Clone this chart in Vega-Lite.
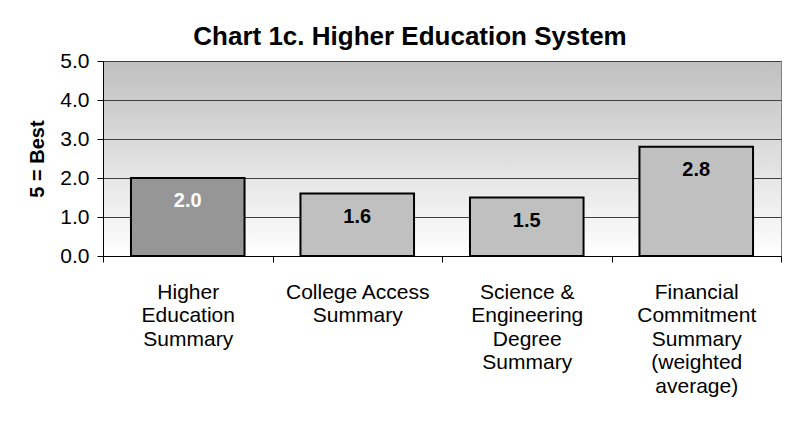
{
  "$schema": "https://vega.github.io/schema/vega-lite/v6.json",
  "autosize": {"type": "none"},
  "width": 678,
  "height": 195,
  "padding": {"left": 103, "top": 61, "right": 7, "bottom": 167},
  "background": "#ffffff",
  "title": {
    "text": "Chart 1c. Higher Education System",
    "font": "Liberation Sans",
    "fontSize": 26,
    "fontWeight": "bold",
    "color": "#000000",
    "anchor": "middle",
    "dx": -32,
    "dy": 10,
    "offset": 10
  },
  "data": {
    "values": [
      {"measure": "Higher|Education|Summary", "score": 2.0, "kind": "Summary"},
      {"measure": "College Access|Summary", "score": 1.6, "kind": "Component"},
      {"measure": "Science &|Engineering|Degree|Summary", "score": 1.5, "kind": "Component"},
      {"measure": "Financial|Commitment|Summary|(weighted|average)", "score": 2.8, "kind": "Component"}
    ]
  },
  "encoding": {
    "x": {
      "field": "measure",
      "type": "nominal",
      "sort": null,
      "scale": {"paddingInner": 0, "paddingOuter": 0},
      "axis": {
        "title": null,
        "labelAngle": 0,
        "labelExpr": "split(datum.label, '|')",
        "labelFont": "Liberation Sans",
        "labelFontSize": 21,
        "labelColor": "#000000",
        "labelLineHeight": 23.5,
        "labelPadding": 19,
        "labelBaseline": "top",
        "tickBand": "extent",
        "tickSize": 6,
        "tickColor": "#000000",
        "domainColor": "#000000",
        "grid": false
      }
    },
    "y": {
      "field": "score",
      "type": "quantitative",
      "scale": {"domain": [0, 5], "nice": false},
      "axis": {
        "title": "5 = Best",
        "titleFont": "Liberation Sans",
        "titleFontSize": 20,
        "titleFontWeight": "bold",
        "titleColor": "#000000",
        "titlePadding": 12,
        "values": [0, 1, 2, 3, 4, 5],
        "format": ".1f",
        "labelFont": "Liberation Sans",
        "labelFontSize": 21,
        "labelColor": "#000000",
        "labelPadding": 8,
        "tickSize": 6,
        "tickColor": "#000000",
        "domainColor": "#000000",
        "grid": true,
        "gridColor": "#404040",
        "gridWidth": 1
      }
    }
  },
  "layer": [
    {
      "mark": {"type": "bar", "stroke": "#000000", "strokeWidth": 2, "width": {"band": 0.67}},
      "encoding": {
        "color": {
          "field": "kind",
          "type": "nominal",
          "scale": {"domain": ["Summary", "Component"], "range": ["#969696", "#c0c0c0"]},
          "legend": null
        }
      }
    },
    {
      "mark": {
        "type": "text",
        "font": "Liberation Sans",
        "fontSize": 20,
        "fontWeight": "bold",
        "baseline": "middle",
        "dy": 23
      },
      "encoding": {
        "text": {"field": "score", "type": "quantitative", "format": ".1f"},
        "color": {
          "field": "kind",
          "type": "nominal",
          "scale": {"domain": ["Summary", "Component"], "range": ["#ffffff", "#000000"]},
          "legend": null
        }
      }
    }
  ],
  "resolve": {"scale": {"color": "independent"}},
  "config": {
    "view": {
      "stroke": "#808080",
      "strokeWidth": 1,
      "fill": {
        "gradient": "linear",
        "x1": 0, "y1": 0, "x2": 0, "y2": 1,
        "stops": [
          {"offset": 0, "color": "#c0c0c0"},
          {"offset": 1, "color": "#ffffff"}
        ]
      }
    }
  }
}
